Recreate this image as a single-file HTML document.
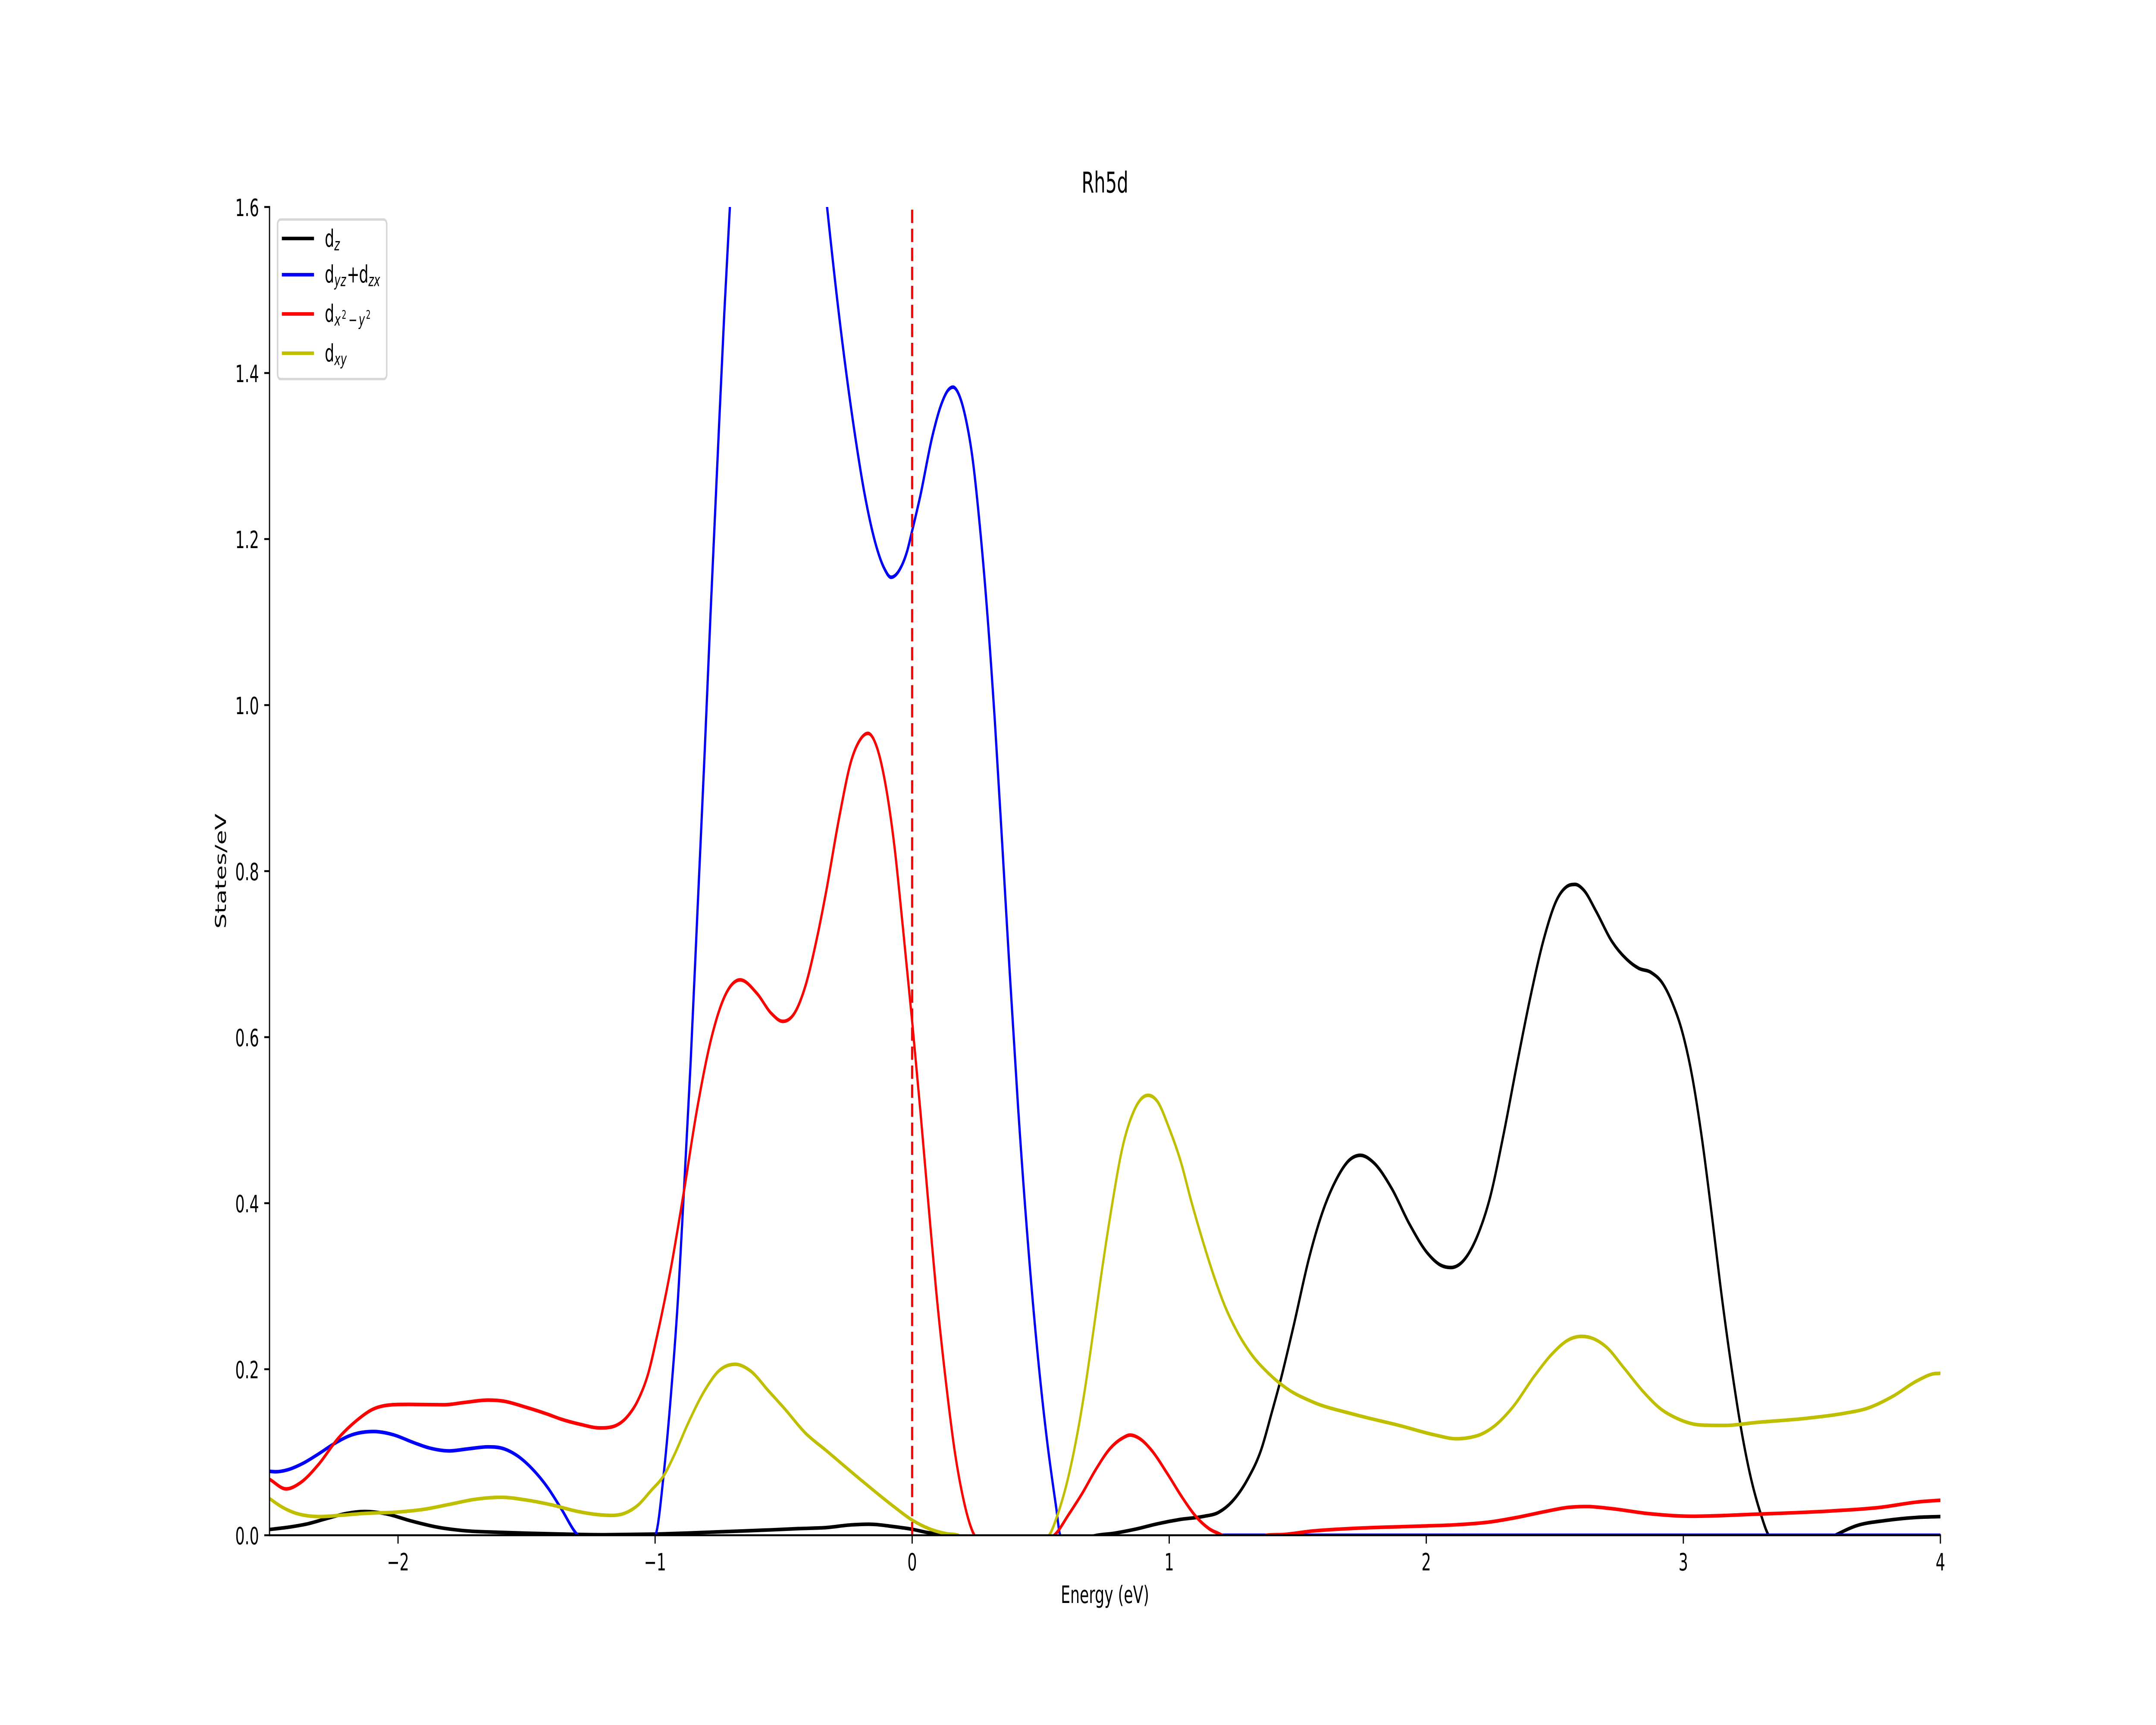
<!DOCTYPE html>
<html lang="en">
<head>
<meta charset="utf-8">
<title>Rh5d</title>
<style>
html,body{margin:0;padding:0;background:#fff;width:100%;height:100%;overflow:hidden}
svg{display:block;width:100vw;height:100vh}
text{font-family:"DejaVu Sans","Liberation Sans",sans-serif;fill:#000}
</style>
</head>
<body>
<svg id="chart" xmlns="http://www.w3.org/2000/svg" viewBox="0 0 8000 4000" preserveAspectRatio="none">
<defs><clipPath id="axes-clip"><rect x="1000" y="480" width="6200" height="3080"/></clipPath></defs>
<rect x="0" y="0" width="8000" height="4000" fill="#fff"/>
<g id="series-layer" clip-path="url(#axes-clip)"></g>
<g id="axis-layer"></g>
<text x="4100" y="446.7" font-size="66.67" text-anchor="middle">Rh5d</text>
<text x="4100" y="3717" font-size="55.56" text-anchor="middle">Energy (eV)</text>
<text transform="translate(838 2020) rotate(-90)" font-size="55.56" text-anchor="middle">States/eV</text>
<g>
<rect x="1030" y="509" width="405" height="370" rx="11" ry="11" fill="#fff" fill-opacity="0.8" stroke="#d6d6d6" stroke-width="5.56"/>
<g>
<line x1="1050" x2="1161" y1="553" y2="553" stroke="#000" stroke-width="8.33" stroke-linecap="square"/>
<text font-size="55.56"><tspan x="1205" y="572">d</tspan><tspan x="1240.5" y="580.3" font-size="38.9" font-style="italic">z</tspan></text>
</g>
<g>
<line x1="1050" x2="1161" y1="637" y2="637" stroke="#0000ff" stroke-width="8.33" stroke-linecap="square"/>
<text font-size="55.56"><tspan x="1205" y="655">d</tspan><tspan x="1240.5" y="663.3" font-size="38.9" font-style="italic">yz</tspan><tspan x="1287" y="655">+</tspan><tspan x="1332" y="655">d</tspan><tspan x="1367" y="663.3" font-size="38.9" font-style="italic">zx</tspan></text>
</g>
<g>
<line x1="1050" x2="1161" y1="728" y2="728" stroke="#ff0000" stroke-width="8.33" stroke-linecap="square"/>
<text font-size="55.56"><tspan x="1205" y="746">d</tspan><tspan x="1241" y="755" font-size="38.9" font-style="italic">x</tspan><tspan x="1268" y="739" font-size="27.2">2</tspan><tspan x="1293" y="755" font-size="38.9">−</tspan><tspan x="1331" y="755" font-size="38.9" font-style="italic">y</tspan><tspan x="1358" y="739" font-size="27.2">2</tspan></text>
</g>
<g>
<line x1="1050" x2="1161" y1="819" y2="819" stroke="#bfbf00" stroke-width="8.33" stroke-linecap="square"/>
<text font-size="55.56"><tspan x="1205" y="838">d</tspan><tspan x="1240.5" y="846.3" font-size="38.9" font-style="italic">xy</tspan></text>
</g>
</g>
</svg>
<script>
const xTickValues = [-2, -1, 0, 1, 2, 3, 4];
const xTickLabels = ["−2", "−1", "0", "1", "2", "3", "4"];
const yTickValues = [0, 0.2, 0.4, 0.6, 0.8, 1.0, 1.2, 1.4, 1.6];
const yTickLabels = ["0.0", "0.2", "0.4", "0.6", "0.8", "1.0", "1.2", "1.4", "1.6"];
const xDomain = [-2.5, 4];
const yDomain = [0, 1.6];
const fermiEnergy = 0;

const dzEnergy = [-2.5,-2.42,-2.35,-2.28,-2.2,-2.13,-2.05,-1.95,-1.85,-1.75,-1.6,-1.4,-1.2,-1.0,-0.763,-0.549,-0.442,-0.336,-0.236,-0.169,-0.069,0,0.065,0.132,0.2,0.25,0.6,0.69,0.72,0.783,0.87,0.957,1.044,1.131,1.192,1.244,1.305,1.357,1.4,1.435,1.483,1.544,1.596,1.649,1.701,1.744,1.796,1.866,1.935,2.005,2.057,2.096,2.144,2.196,2.248,2.3,2.353,2.405,2.457,2.509,2.544,2.579,2.613,2.66,2.722,2.779,2.826,2.874,2.921,2.959,2.997,3.035,3.073,3.111,3.149,3.187,3.225,3.263,3.301,3.332,3.36,3.56,3.591,3.672,3.786,3.909,4];
const dzStates = [0.0069,0.01,0.0139,0.0199,0.0263,0.0286,0.026,0.0173,0.0099,0.0057,0.0035,0.0017,0.0006,0.0014,0.004,0.0065,0.008,0.0092,0.0125,0.0133,0.0103,0.0072,0.003,0.001,-0.002,-0.005,-0.005,-0.002,0,0.0023,0.0074,0.014,0.0191,0.0226,0.0276,0.0404,0.0675,0.1024,0.149,0.189,0.251,0.334,0.389,0.428,0.452,0.4577,0.4486,0.4175,0.3746,0.3397,0.3252,0.3225,0.3306,0.3585,0.4068,0.4819,0.5678,0.6483,0.718,0.7663,0.7808,0.784,0.777,0.752,0.7154,0.694,0.683,0.678,0.664,0.64,0.605,0.5517,0.4765,0.3853,0.2887,0.2029,0.1277,0.0687,0.0258,0,-0.005,-0.005,0,0.0113,0.0177,0.0215,0.0225];

const dyzEnergy = [-2.5,-2.475,-2.43,-2.37,-2.31,-2.25,-2.18,-2.094,-2.02,-1.94,-1.88,-1.8,-1.73,-1.648,-1.587,-1.537,-1.477,-1.417,-1.367,-1.3,-1.27,-1.03,-0.999,-0.966,-0.939,-0.912,-0.888,-0.862,-0.835,-0.808,-0.784,-0.757,-0.731,-0.709,-0.68,-0.6,-0.5,-0.4,-0.331,-0.283,-0.226,-0.186,-0.142,-0.109,-0.082,-0.049,-0.019,0,0.031,0.078,0.112,0.139,0.159,0.182,0.205,0.235,0.265,0.292,0.322,0.352,0.379,0.412,0.453,0.493,0.526,0.56,0.576,0.6,1.15,1.2,2,3,4];
const dyzStates = [0.077,0.0765,0.0788,0.0866,0.0978,0.11,0.1209,0.125,0.1212,0.1117,0.1053,0.1016,0.104,0.1065,0.104,0.096,0.0797,0.0571,0.0329,0,-0.006,-0.006,0,0.075,0.167,0.28,0.414,0.568,0.753,0.937,1.112,1.297,1.471,1.6,1.76,2.0,2.05,1.82,1.6,1.466,1.333,1.256,1.194,1.165,1.154,1.163,1.186,1.21,1.251,1.323,1.361,1.379,1.383,1.374,1.35,1.297,1.21,1.112,0.979,0.824,0.681,0.516,0.342,0.203,0.111,0.034,0,-0.006,-0.006,0,0,0,0];

const dx2y2Energy = [-2.5,-2.435,-2.38,-2.31,-2.235,-2.16,-2.1,-2.03,-1.96,-1.82,-1.74,-1.65,-1.6,-1.5,-1.42,-1.367,-1.287,-1.216,-1.166,-1.106,-1.066,-1.026,-0.993,-0.939,-0.888,-0.838,-0.781,-0.731,-0.669,-0.602,-0.549,-0.503,-0.452,-0.415,-0.372,-0.336,-0.283,-0.236,-0.203,-0.172,-0.136,-0.102,-0.069,-0.036,0,0.032,0.065,0.098,0.132,0.165,0.199,0.225,0.242,0.27,0.52,0.553,0.609,0.661,0.714,0.77,0.818,0.848,0.887,0.931,0.992,1.053,1.105,1.157,1.205,1.23,1.35,1.379,1.449,1.553,1.727,1.987,2.118,2.248,2.361,2.466,2.553,2.622,2.722,2.864,3.035,3.292,3.577,3.766,3.909,4];
const dx2y2States = [0.0675,0.0558,0.0632,0.085,0.116,0.1385,0.1515,0.157,0.1576,0.1572,0.16,0.1628,0.162,0.154,0.146,0.14,0.1333,0.1293,0.1307,0.1437,0.163,0.1957,0.239,0.321,0.414,0.511,0.599,0.648,0.669,0.652,0.629,0.619,0.632,0.662,0.717,0.773,0.866,0.934,0.958,0.966,0.948,0.9015,0.83,0.732,0.619,0.511,0.393,0.28,0.183,0.1025,0.044,0.013,0,-0.006,-0.006,0,0.025,0.0502,0.079,0.1045,0.117,0.1207,0.116,0.1025,0.0746,0.0444,0.0222,0.0075,0,-0.005,-0.005,0,0.001,0.005,0.0084,0.0111,0.0127,0.016,0.022,0.0288,0.0336,0.0346,0.032,0.0261,0.0229,0.0255,0.0293,0.0336,0.04,0.0422];

const dxyEnergy = [-2.5,-2.45,-2.4,-2.35,-2.3,-2.23,-2.13,-2.0,-1.9,-1.8,-1.7,-1.6,-1.5,-1.4,-1.3,-1.23,-1.17,-1.116,-1.066,-1.016,-0.966,-0.923,-0.87,-0.806,-0.752,-0.688,-0.629,-0.559,-0.495,-0.415,-0.336,-0.203,-0.069,0,0.065,0.132,0.178,0.21,0.5,0.533,0.566,0.601,0.635,0.67,0.705,0.74,0.775,0.818,0.861,0.892,0.918,0.953,1.0,1.044,1.087,1.131,1.174,1.218,1.27,1.322,1.383,1.461,1.553,1.727,1.901,2.031,2.118,2.161,2.213,2.266,2.335,2.422,2.492,2.553,2.605,2.639,2.703,2.769,2.845,2.912,2.978,3.064,3.159,3.292,3.482,3.624,3.719,3.814,3.909,3.975,4];
const dxyStates = [0.0442,0.0338,0.0268,0.0234,0.0225,0.0239,0.0263,0.028,0.0312,0.0372,0.0433,0.0457,0.0424,0.0364,0.0286,0.0251,0.0239,0.0268,0.0364,0.0537,0.072,0.0984,0.136,0.175,0.198,0.206,0.198,0.174,0.152,0.123,0.1025,0.0676,0.034,0.0183,0.008,0.002,0,-0.005,-0.005,0,0.025,0.062,0.11,0.172,0.246,0.323,0.393,0.467,0.51,0.526,0.53,0.523,0.49,0.451,0.401,0.354,0.312,0.275,0.242,0.217,0.196,0.176,0.1613,0.145,0.1318,0.121,0.1162,0.1173,0.1216,0.1318,0.1538,0.1924,0.2193,0.2354,0.2396,0.238,0.226,0.2015,0.1726,0.1522,0.1404,0.1329,0.1323,0.1361,0.141,0.1468,0.1533,0.1672,0.186,0.1946,0.1951];

const plotLeft = 1000, plotRight = 7200, plotTop = 480, plotBottom = 3560;
const svgNS = "http://www.w3.org/2000/svg";

function xScale(v) { return plotLeft + (v - xDomain[0]) / (xDomain[1] - xDomain[0]) * (plotRight - plotLeft); }
function yScale(v) { return plotBottom - (v - yDomain[0]) / (yDomain[1] - yDomain[0]) * (plotBottom - plotTop); }

function curvePath(xs, ys) {
  const px = xs.map(xScale), py = ys.map(yScale), n = px.length;
  const slope = [];
  for (let i = 0; i < n; i++) {
    if (i === 0) { slope.push((py[1] - py[0]) / (px[1] - px[0])); continue; }
    if (i === n - 1) { slope.push((py[i] - py[i - 1]) / (px[i] - px[i - 1])); continue; }
    const h0 = px[i] - px[i - 1], h1 = px[i + 1] - px[i];
    const d0 = (py[i] - py[i - 1]) / h0, d1 = (py[i + 1] - py[i]) / h1;
    if (d0 * d1 <= 0) { slope.push(0); continue; }
    const m = (h0 * d1 + h1 * d0) / (h0 + h1);
    const limit = 3 * Math.min(Math.abs(d0), Math.abs(d1));
    slope.push(Math.sign(m) * Math.min(Math.abs(m), limit));
  }
  let d = "M" + px[0].toFixed(1) + " " + py[0].toFixed(1);
  for (let i = 0; i < n - 1; i++) {
    const h = (px[i + 1] - px[i]) / 3;
    d += "C" + (px[i] + h).toFixed(1) + " " + (py[i] + slope[i] * h).toFixed(1) + " " +
         (px[i + 1] - h).toFixed(1) + " " + (py[i + 1] - slope[i + 1] * h).toFixed(1) + " " +
         px[i + 1].toFixed(1) + " " + py[i + 1].toFixed(1);
  }
  return d;
}

const seriesLayer = document.getElementById("series-layer");
const axisLayer = document.getElementById("axis-layer");

const dzLine = document.createElementNS(svgNS, "path");


dzLine.setAttribute("d", curvePath(dzEnergy, dzStates));
dzLine.setAttribute("stroke", "#000000");
seriesLayer.appendChild(dzLine);

const dyzLine = document.createElementNS(svgNS, "path");


dyzLine.setAttribute("d", curvePath(dyzEnergy, dyzStates));
dyzLine.setAttribute("stroke", "#0000ff");
seriesLayer.appendChild(dyzLine);

const dx2y2Line = document.createElementNS(svgNS, "path");


dx2y2Line.setAttribute("d", curvePath(dx2y2Energy, dx2y2States));
dx2y2Line.setAttribute("stroke", "#ff0000");
seriesLayer.appendChild(dx2y2Line);

const dxyLine = document.createElementNS(svgNS, "path");


dxyLine.setAttribute("d", curvePath(dxyEnergy, dxyStates));
dxyLine.setAttribute("stroke", "#bfbf00");
seriesLayer.appendChild(dxyLine);

[dzLine, dyzLine, dx2y2Line, dxyLine].forEach(function (p) {
  p.setAttribute("fill", "none");
  p.setAttribute("stroke-width", "8.33");
  p.setAttribute("stroke-linejoin", "round");
});

const fermiLine = document.createElementNS(svgNS, "line");


fermiLine.setAttribute("x1", xScale(fermiEnergy));
fermiLine.setAttribute("x2", xScale(fermiEnergy));
fermiLine.setAttribute("y1", plotBottom);
fermiLine.setAttribute("y2", plotTop);
fermiLine.setAttribute("stroke", "#ff0000");
fermiLine.setAttribute("stroke-width", "8.33");
fermiLine.setAttribute("stroke-dasharray", "30.8 13.3");
seriesLayer.appendChild(fermiLine);

xTickValues.forEach(function (v, i) {
  const x = xScale(v);
  const tick = document.createElementNS(svgNS, "line");
  
  
  tick.setAttribute("x1", x);
  tick.setAttribute("x2", x);
  tick.setAttribute("y1", plotBottom);
  tick.setAttribute("y2", plotBottom + 19.44);
  tick.setAttribute("stroke", "#000");
  tick.setAttribute("stroke-width", "4.44");
  axisLayer.appendChild(tick);
  const label = document.createElementNS(svgNS, "text");
  
  
  label.setAttribute("x", x);
  label.setAttribute("y", 3641.5);
  label.setAttribute("font-size", "55.56");
  label.setAttribute("text-anchor", "middle");
  label.textContent = xTickLabels[i];
  axisLayer.appendChild(label);
});

yTickValues.forEach(function (v, i) {
  const y = yScale(v);
  const tick = document.createElementNS(svgNS, "line");
  
  
  tick.setAttribute("x1", plotLeft - 19.44);
  tick.setAttribute("x2", plotLeft);
  tick.setAttribute("y1", y);
  tick.setAttribute("y2", y);
  tick.setAttribute("stroke", "#000");
  tick.setAttribute("stroke-width", "4.44");
  axisLayer.appendChild(tick);
  const label = document.createElementNS(svgNS, "text");
  
  
  label.setAttribute("x", plotLeft - 38.9);
  label.setAttribute("y", y + 20.8);
  label.setAttribute("font-size", "55.56");
  label.setAttribute("text-anchor", "end");
  label.textContent = yTickLabels[i];
  axisLayer.appendChild(label);
});

const leftSpine = document.createElementNS(svgNS, "line");


leftSpine.setAttribute("x1", plotLeft);
leftSpine.setAttribute("x2", plotLeft);
leftSpine.setAttribute("y1", plotTop - 2.22);
leftSpine.setAttribute("y2", plotBottom + 2.22);
leftSpine.setAttribute("stroke", "#000");
leftSpine.setAttribute("stroke-width", "4.44");
axisLayer.appendChild(leftSpine);

const bottomSpine = document.createElementNS(svgNS, "line");


bottomSpine.setAttribute("x1", plotLeft - 2.22);
bottomSpine.setAttribute("x2", plotRight + 2.22);
bottomSpine.setAttribute("y1", plotBottom);
bottomSpine.setAttribute("y2", plotBottom);
bottomSpine.setAttribute("stroke", "#000");
bottomSpine.setAttribute("stroke-width", "4.44");
axisLayer.appendChild(bottomSpine);
</script>
</body>
</html>
